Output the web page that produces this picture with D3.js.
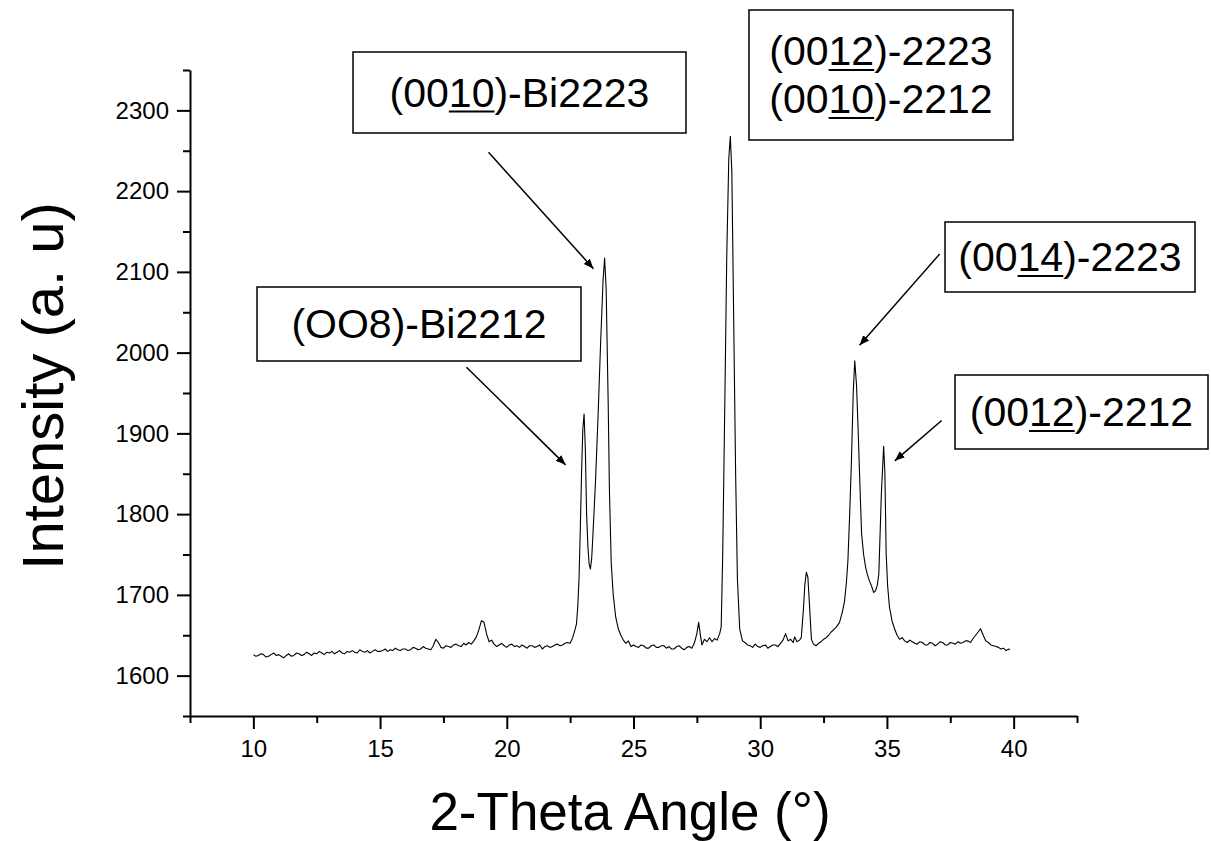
<!DOCTYPE html>
<html>
<head>
<meta charset="utf-8">
<script src="https://cdn.jsdelivr.net/npm/d3@7"></script>
<style>
  body { margin: 0; background: #fff; }
  svg { display: block; }
  text { font-family: "Liberation Sans", Arial, sans-serif; fill: #000; }
</style>
</head>
<body>
<div id="chart"></div>
<script>
// XRD pattern (2-theta in degrees, intensity in a.u.)
const twoTheta = [
  10.0, 10.1, 10.2, 10.3, 10.4, 10.5, 10.6, 10.7, 10.8, 10.9,
  11.0, 11.1, 11.2, 11.3, 11.4, 11.5, 11.6, 11.7, 11.8, 11.9,
  12.0, 12.1, 12.2, 12.3, 12.4, 12.5, 12.6, 12.7, 12.8, 12.9,
  13.0, 13.1, 13.2, 13.3, 13.4, 13.5, 13.6, 13.7, 13.8, 13.9,
  14.0, 14.1, 14.2, 14.3, 14.4, 14.5, 14.6, 14.7, 14.8, 14.9,
  15.0, 15.1, 15.2, 15.3, 15.4, 15.5, 15.6, 15.7, 15.8, 15.9,
  16.0, 16.1, 16.2, 16.3, 16.4, 16.5, 16.6, 16.7, 16.8, 16.9,
  17.0, 17.1, 17.2, 17.3, 17.4, 17.5, 17.6, 17.7, 17.8, 17.9,
  18.0, 18.1, 18.2, 18.3, 18.4, 18.5, 18.6, 18.7, 18.8, 18.9,
  19.0, 19.1, 19.2, 19.3, 19.4, 19.5, 19.6, 19.7, 19.8, 19.9,
  20.0, 20.1, 20.2, 20.3, 20.4, 20.5, 20.6, 20.7, 20.8, 20.9,
  21.0, 21.1, 21.2, 21.3, 21.4, 21.5, 21.6, 21.7, 21.8, 21.9,
  22.0, 22.1, 22.2, 22.3, 22.4, 22.5, 22.6, 22.7, 22.75, 22.8,
  22.85, 22.9, 22.95, 23.0, 23.05, 23.1, 23.15, 23.2, 23.25, 23.3,
  23.35, 23.4, 23.5, 23.6, 23.7, 23.8, 23.86, 23.92, 24.0, 24.05,
  24.12, 24.2, 24.3, 24.4, 24.5, 24.6, 24.7, 24.8, 24.9, 25.0,
  25.1, 25.2, 25.3, 25.4, 25.5, 25.6, 25.7, 25.8, 25.9, 26.0,
  26.1, 26.2, 26.3, 26.4, 26.5, 26.6, 26.7, 26.8, 26.9, 27.0,
  27.1, 27.2, 27.3, 27.4, 27.5, 27.57, 27.65, 27.7, 27.8, 27.9,
  28.0, 28.1, 28.2, 28.3, 28.4, 28.46, 28.52, 28.6, 28.68, 28.76,
  28.82, 28.88, 28.95, 29.03, 29.1, 29.19, 29.3, 29.4, 29.5, 29.6,
  29.7, 29.8, 29.9, 30.0, 30.1, 30.2, 30.3, 30.4, 30.5, 30.6,
  30.7, 30.8, 30.9, 31.0, 31.1, 31.2, 31.3, 31.36, 31.45, 31.55,
  31.62, 31.7, 31.76, 31.82, 31.88, 31.94, 32.02, 32.1, 32.2, 32.3,
  32.4, 32.5, 32.6, 32.7, 32.8, 32.9, 33.0, 33.13, 33.25, 33.33,
  33.4, 33.46, 33.53, 33.6, 33.67, 33.73, 33.8, 33.86, 33.93, 34.0,
  34.08, 34.16, 34.23, 34.3, 34.38, 34.48, 34.55, 34.62, 34.68, 34.78,
  34.87, 34.92, 34.97, 35.03, 35.1, 35.2, 35.3, 35.4, 35.5, 35.6,
  35.7, 35.8, 35.9, 36.0, 36.1, 36.2, 36.3, 36.4, 36.5, 36.6,
  36.7, 36.8, 36.9, 37.0, 37.1, 37.2, 37.3, 37.4, 37.5, 37.6,
  37.7, 37.8, 37.9, 38.0, 38.1, 38.2, 38.3, 38.4, 38.5, 38.6,
  38.69, 38.8, 38.9, 39.0, 39.1, 39.2, 39.3, 39.4, 39.5, 39.6,
  39.7, 39.8, 39.85
];
const intensity = [
  1626, 1624, 1625, 1627, 1626, 1623, 1624, 1626, 1628, 1625,
  1626, 1624, 1622, 1625, 1627, 1624, 1625, 1628, 1627, 1625,
  1626, 1629, 1627, 1625, 1628, 1627, 1630, 1628, 1626, 1629,
  1628, 1630, 1627, 1629, 1631, 1628, 1627, 1630, 1629, 1631,
  1629, 1628, 1632, 1630, 1629, 1631, 1628, 1630, 1632, 1630,
  1630, 1631, 1633, 1630, 1632, 1631, 1634, 1632, 1631, 1633,
  1633, 1631, 1632, 1635, 1634, 1632, 1633, 1636, 1634, 1633,
  1632, 1637, 1645, 1641, 1635, 1634, 1637, 1636, 1635, 1638,
  1639, 1637, 1636, 1640, 1638, 1641, 1639, 1643, 1648, 1657,
  1668, 1666, 1652, 1642, 1644, 1639, 1636, 1638, 1640, 1637,
  1635, 1638, 1639, 1636, 1637, 1635, 1638, 1636, 1634, 1637,
  1637, 1635, 1636, 1638, 1633, 1636, 1637, 1635, 1636, 1638,
  1639, 1637, 1638, 1640, 1641, 1640, 1647, 1658, 1664, 1685,
  1720, 1780, 1850, 1905, 1924, 1880, 1800, 1760, 1738, 1732,
  1745, 1775, 1840, 1920, 2010, 2090, 2117, 2080, 1940, 1830,
  1740, 1700, 1672, 1658, 1650, 1644, 1640, 1643, 1636, 1638,
  1636, 1635, 1638, 1637, 1634, 1634, 1637, 1638, 1635, 1635,
  1637, 1637, 1634, 1636, 1633, 1633, 1636, 1637, 1634, 1632,
  1635, 1636, 1634, 1640, 1652, 1666, 1648, 1638, 1645, 1642,
  1647, 1642, 1646, 1644, 1652, 1660, 1750, 1930, 2120, 2240,
  2268, 2225, 2050, 1850, 1720, 1658, 1643, 1641, 1638, 1637,
  1635, 1639, 1636, 1635, 1637, 1638, 1634, 1636, 1638, 1638,
  1636, 1640, 1644, 1652, 1643, 1645, 1641, 1648, 1642, 1644,
  1647, 1680, 1712, 1728, 1722, 1690, 1645, 1639, 1637, 1640,
  1642, 1645, 1647, 1650, 1654, 1657, 1660, 1666, 1680, 1693,
  1715, 1742, 1800, 1866, 1950, 1990, 1960, 1908, 1840, 1776,
  1750, 1734, 1725, 1718, 1712, 1703, 1705, 1712, 1726, 1825,
  1884, 1850, 1751, 1710, 1685, 1668, 1658, 1650, 1645, 1647,
  1643, 1641, 1644, 1642, 1640, 1639, 1642, 1641, 1638, 1638,
  1641, 1640, 1637, 1639, 1642, 1641, 1638, 1638, 1641, 1640,
  1639, 1642, 1640, 1641, 1643, 1643, 1641, 1646, 1650, 1654,
  1658, 1650, 1643, 1641, 1638, 1637, 1636, 1635, 1633, 1634,
  1631, 1633, 1632
];

const xMajorTicks = [10, 15, 20, 25, 30, 35, 40];
const xMinorTicks = [7.5, 12.5, 17.5, 22.5, 27.5, 32.5, 37.5, 42.5];
const yMajorTicks = [1600, 1700, 1800, 1900, 2000, 2100, 2200, 2300];
const yMinorTicks = [1550, 1650, 1750, 1850, 1950, 2050, 2150, 2250, 2350];

// peak labels: text lines split as [before, underlined, after], arrow start/tip in data units
const peakLabels = [
  { lines: [["(00", "10", ")-Bi2223"]], from: [19.28, 2248], to: [23.42, 2104] },
  { lines: [["(OO8)-Bi2212", "", ""]], from: [18.41, 1982], to: [22.32, 1861] },
  { lines: [["(00", "12", ")-2223"], ["(00", "10", ")-2212"]], from: null, to: null },
  { lines: [["(00", "14", ")-2223"]], from: [37.08, 2122], to: [33.92, 2009] },
  { lines: [["(00", "12", ")-2212"]], from: [37.16, 1916], to: [35.31, 1866] }
];
// box layout in page pixels [left, top, right, bottom]
const labelBoxes = [
  [353, 52, 686, 133],
  [257, 287, 581, 361],
  [749, 10, 1013, 140],
  [945, 222, 1195, 292],
  [955, 375, 1208, 449]
];

const width = 1211, height = 841;

const svg = d3.select("#chart").append("svg")
    .attr("width", width)
    .attr("height", height);

const x = d3.scaleLinear().domain([7.5, 42.5]).range([190, 1077]);
const y = d3.scaleLinear().domain([1550, 2350]).range([716, 70]);

const data = twoTheta.map((t, i) => [t, intensity[i]]);

// the pattern
svg.append("path")
    .datum(data)
    .attr("fill", "none")
    .attr("stroke", "#000")
    .attr("stroke-width", 1.1)
    .attr("stroke-linejoin", "round")
    .attr("d", d3.line().x(d => x(d[0])).y(d => y(d[1])));

// x axis
const xAxisG = svg.append("g").attr("transform", `translate(0,${y(1550)})`);
xAxisG.call(d3.axisBottom(x).tickValues(xMinorTicks).tickSize(7).tickSizeOuter(0).tickFormat(""));
xAxisG.append("g").call(d3.axisBottom(x).tickValues(xMajorTicks).tickSize(13).tickSizeOuter(0).tickPadding(11))
    .select(".domain").remove();
xAxisG.selectAll("path, line").attr("stroke", "#000").attr("stroke-width", 2);
xAxisG.selectAll("text")
    .style("font-family", "'Liberation Sans Narrow', 'Liberation Sans', Arial, sans-serif")
    .style("font-size", "24px");

// y axis
const yAxisG = svg.append("g").attr("transform", `translate(${x(7.5)},0)`);
yAxisG.call(d3.axisLeft(y).tickValues(yMinorTicks).tickSize(7).tickSizeOuter(0).tickFormat(""));
yAxisG.append("g").call(d3.axisLeft(y).tickValues(yMajorTicks).tickSize(13).tickSizeOuter(0)
        .tickPadding(8).tickFormat(d3.format("d")))
    .select(".domain").remove();
yAxisG.selectAll("path, line").attr("stroke", "#000").attr("stroke-width", 2);
yAxisG.selectAll("text").style("font-size", "24px");

// axis titles
svg.append("text")
    .attr("x", 630).attr("y", 830)
    .attr("text-anchor", "middle")
    .style("font-size", "53px")
    .text("2-Theta Angle (°)");

svg.append("text")
    .attr("transform", "translate(63,386) rotate(-90)")
    .attr("text-anchor", "middle")
    .style("font-size", "58px")
    .text("Intensity (a. u)");

// arrowhead
svg.append("defs").append("marker")
    .attr("id", "arrow")
    .attr("viewBox", "0 0 10 10")
    .attr("refX", 10).attr("refY", 5)
    .attr("markerWidth", 10).attr("markerHeight", 10)
    .attr("markerUnits", "userSpaceOnUse")
    .attr("orient", "auto")
    .append("path")
    .attr("d", "M0,1 L10,5 L0,9 Z")
    .attr("fill", "#000");

const lab = svg.append("g");
peakLabels.forEach((p, i) => {
    const b = labelBoxes[i];
    lab.append("rect")
        .attr("x", b[0]).attr("y", b[1])
        .attr("width", b[2] - b[0]).attr("height", b[3] - b[1])
        .attr("fill", "#fff")
        .attr("stroke", "#000")
        .attr("stroke-width", 1.5);
    const cx = (b[0] + b[2]) / 2;
    const cy = (b[1] + b[3]) / 2;
    const lineH = 48;
    p.lines.forEach((parts, j) => {
        const by = cy + (j - (p.lines.length - 1) / 2) * lineH + 14;
        const t = lab.append("text")
            .attr("x", cx)
            .attr("y", by)
            .attr("text-anchor", "middle")
            .style("font-size", "41px")
            .text(parts.join(""));
        if (parts[1]) {
            // draw the underline under the middle part by hand
            const node = t.node();
            const total = node.getComputedTextLength();
            const start = cx - total / 2 + node.getSubStringLength(0, parts[0].length);
            const len = node.getSubStringLength(parts[0].length, parts[1].length);
            lab.append("line")
                .attr("x1", start).attr("x2", start + len)
                .attr("y1", by + 5).attr("y2", by + 5)
                .attr("stroke", "#000")
                .attr("stroke-width", 2);
        }
    });
    if (p.from) {
        lab.append("line")
            .attr("x1", x(p.from[0])).attr("y1", y(p.from[1]))
            .attr("x2", x(p.to[0])).attr("y2", y(p.to[1]))
            .attr("stroke", "#000")
            .attr("stroke-width", 1.5)
            .attr("marker-end", "url(#arrow)");
    }
});
</script>
</body>
</html>
